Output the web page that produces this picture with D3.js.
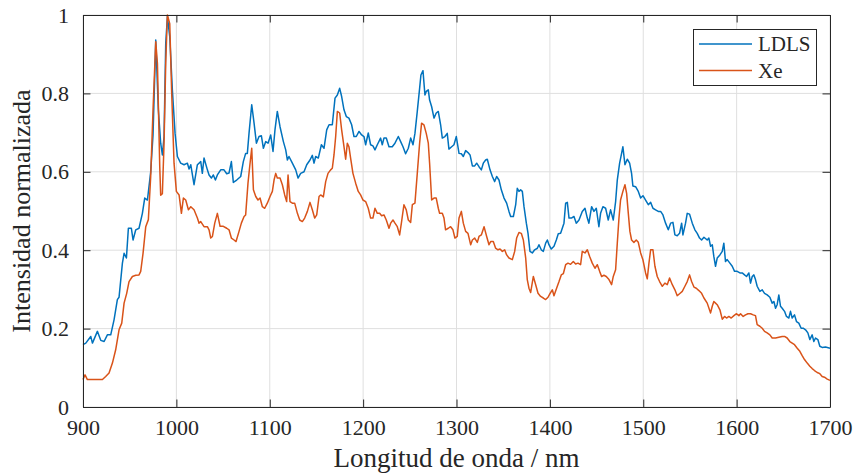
<!DOCTYPE html>
<html><head><meta charset="utf-8">
<script src="https://cdn.jsdelivr.net/npm/d3@7"></script>
<style>
body{margin:0;background:#fff;font-family:'Liberation Serif'}
svg{display:block}
svg text{font-family:'Liberation Serif'}
</style>
</head><body>
<svg id="chart" width="855" height="475" font-family="Liberation Serif"></svg>
<script>
const seriesNames = ["LDLS", "Xe"];
const ldlsNm = [900,903,908.3,910.1,915.4,919,922.6,926.1,929.7,933.3,936.8,938.6,942.2,944,946.5,948.6,951.8,953.6,956.5,960,963.6,966.1,969,972.5,975,977.9,980.7,983.2,985,986.8,988.6,990.4,992.9,995.7,998.6,1001.1,1004.6,1008.2,1011.8,1013.6,1015.4,1018.9,1022.5,1026.1,1027.8,1029.6,1033.2,1035,1037.5,1039.6,1041.8,1043.9,1047.5,1051,1053.9,1056.4,1058.9,1061,1064.6,1068.9,1071.7,1074.2,1076,1077.8,1080.7,1083.2,1085.7,1088.5,1091,1093.2,1095.7,1098.2,1101,1103.5,1105.6,1108.1,1111,1114.6,1117.1,1118.9,1120.6,1124.2,1127.8,1130.3,1133.1,1136.7,1139.6,1143.1,1145.6,1147.4,1149.2,1152,1155.3,1158.1,1161,1163.5,1167,1169.9,1172.4,1174.9,1177,1179.5,1182,1184.8,1187.7,1190.2,1192.7,1195.6,1198.4,1200.9,1202.7,1205.5,1208,1210.5,1212.7,1215.2,1218.7,1220.5,1222.3,1224.8,1227.7,1231.2,1234.1,1237.7,1240.2,1242.7,1245.5,1248.4,1250.9,1253.4,1255.5,1258,1260.5,1261.9,1264.1,1266.2,1267.6,1269.8,1271.2,1273.4,1275.9,1278.3,1280.5,1283,1284.8,1287.6,1290.1,1291.9,1294.8,1297.3,1299.8,1302.7,1305.2,1307.3,1309.8,1312.3,1314.5,1317,1319.5,1321.6,1324.1,1326.6,1328.7,1331.2,1333,1335.9,1338.4,1340.9,1343,1345.5,1348,1350.9,1353.7,1356.2,1358,1360.9,1363.4,1365.1,1366.9,1368.7,1370.5,1372.3,1374.8,1376.6,1378.7,1381.2,1383.7,1386.6,1388.3,1390.8,1393,1395.5,1397.3,1399,1401.5,1404.4,1406.9,1409,1411.5,1413.3,1415.1,1416.9,1418.7,1420.5,1423,1425.8,1428.3,1431.2,1434.7,1437.6,1440.1,1441.8,1444.7,1447.2,1449.7,1452.5,1454.3,1456.8,1459.7,1462.5,1465,1467.9,1470.4,1472.2,1474.7,1476.8,1478.2,1480.4,1482.9,1485.4,1487.5,1488.9,1491.8,1494.7,1497.2,1499.7,1502.5,1505.4,1507.9,1510.4,1513.2,1516.1,1518.6,1521.1,1523.9,1526.8,1529.3,1531.8,1533.9,1536.4,1538.9,1541.1,1542.5,1545.3,1547.1,1549.6,1552.5,1555.3,1557.8,1560.3,1562.5,1565,1568.5,1570.3,1572.1,1573.9,1575.6,1577.4,1579.2,1582.1,1584.6,1586.3,1588.1,1589.9,1592.8,1595.3,1597.8,1600.6,1603.5,1606,1608.5,1610.6,1613.1,1614.9,1616.7,1618.5,1620.2,1622,1624.9,1627.4,1629.9,1632.7,1635.6,1638.1,1639.9,1641.7,1643.4,1645.2,1647,1648.8,1651.3,1653.4,1655.9,1657.7,1659.5,1662,1664.1,1666.6,1669.1,1671.3,1673.8,1676.3,1678.4,1680.9,1682.7,1684.5,1687,1689.1,1691.6,1695.2,1700];
const ldlsVal = [0.159,0.163,0.18,0.163,0.193,0.17,0.167,0.184,0.184,0.223,0.274,0.28,0.367,0.392,0.38,0.456,0.456,0.426,0.452,0.456,0.494,0.533,0.528,0.6,0.694,0.936,0.758,0.673,0.643,0.69,0.928,0.996,0.945,0.809,0.698,0.639,0.622,0.618,0.622,0.607,0.618,0.567,0.618,0.626,0.596,0.635,0.605,0.592,0.584,0.592,0.579,0.592,0.605,0.605,0.595,0.597,0.626,0.573,0.579,0.588,0.626,0.647,0.647,0.698,0.771,0.724,0.673,0.69,0.692,0.66,0.677,0.673,0.694,0.652,0.707,0.754,0.715,0.677,0.656,0.63,0.639,0.622,0.605,0.584,0.596,0.6,0.618,0.63,0.642,0.622,0.639,0.635,0.669,0.66,0.707,0.72,0.72,0.788,0.796,0.813,0.792,0.758,0.741,0.737,0.72,0.69,0.69,0.703,0.694,0.69,0.669,0.699,0.669,0.666,0.656,0.669,0.686,0.669,0.686,0.686,0.664,0.664,0.673,0.69,0.677,0.664,0.646,0.66,0.686,0.669,0.698,0.754,0.813,0.847,0.858,0.796,0.805,0.809,0.783,0.766,0.737,0.75,0.754,0.72,0.686,0.69,0.698,0.658,0.664,0.669,0.69,0.647,0.646,0.639,0.654,0.649,0.643,0.615,0.615,0.622,0.613,0.605,0.622,0.63,0.632,0.605,0.588,0.575,0.588,0.579,0.554,0.533,0.52,0.499,0.486,0.486,0.516,0.558,0.55,0.554,0.55,0.511,0.469,0.443,0.397,0.393,0.401,0.405,0.414,0.401,0.397,0.418,0.426,0.414,0.403,0.41,0.426,0.442,0.443,0.456,0.469,0.52,0.522,0.482,0.482,0.486,0.469,0.477,0.499,0.507,0.482,0.469,0.511,0.499,0.507,0.46,0.494,0.511,0.507,0.477,0.503,0.477,0.524,0.579,0.622,0.647,0.664,0.618,0.632,0.622,0.596,0.564,0.562,0.55,0.533,0.539,0.528,0.516,0.522,0.507,0.503,0.499,0.499,0.49,0.469,0.452,0.469,0.471,0.439,0.437,0.443,0.469,0.439,0.469,0.494,0.492,0.469,0.452,0.443,0.431,0.426,0.433,0.426,0.431,0.41,0.414,0.384,0.359,0.38,0.388,0.397,0.418,0.371,0.376,0.367,0.359,0.346,0.346,0.342,0.342,0.337,0.333,0.342,0.316,0.333,0.337,0.325,0.308,0.295,0.299,0.29,0.286,0.28,0.265,0.269,0.252,0.261,0.286,0.257,0.252,0.244,0.231,0.227,0.244,0.227,0.235,0.218,0.214,0.201,0.201,0.197,0.189,0.172,0.184,0.167,0.176,0.172,0.155,0.152,0.153,0.15];
const xeNm = [900,902.2,904.7,913.6,920.8,924.3,927.9,931.5,935,938.6,941.5,944,946.8,949.3,952.9,956.5,960,961.8,964.3,967.2,970,972.5,975,977.9,979.7,982.2,983.2,985,986.8,988.6,990.4,992.9,995,997.5,1000,1002.9,1005.4,1007.5,1010,1012.9,1015.4,1018.9,1022.5,1024.3,1026.1,1029.6,1033.2,1035,1036.8,1038.6,1041.1,1043.9,1046.8,1050.3,1053.9,1056.4,1058.9,1061.8,1063.9,1067.1,1069.6,1072.5,1074.2,1076.7,1078.5,1080.7,1082.5,1085,1087.4,1089.6,1092.1,1094.6,1097.4,1100.3,1102.8,1104.6,1106.4,1108.1,1111,1113.5,1116,1118.1,1119.6,1121.7,1124.2,1126.7,1129.6,1132.1,1134.9,1137.4,1140.3,1143.1,1145.6,1148.1,1150.3,1152.8,1154.5,1157.4,1159.9,1162.4,1165.2,1167,1168.8,1170.6,1172.4,1174.9,1177,1179.5,1181.3,1183.1,1184.8,1186.6,1189.1,1192,1194.8,1197.3,1199.8,1202.7,1205.5,1208,1210.5,1212.7,1215.2,1217.7,1219.8,1222.3,1224.8,1227.7,1229.5,1232,1234.1,1236.6,1239.1,1241.2,1243.7,1246.2,1248.4,1250.9,1252.7,1255.5,1258,1260.5,1262.6,1265.1,1267.6,1269.8,1271.2,1273.4,1275.9,1278.3,1280.5,1281.9,1284.8,1286.6,1288.3,1291.2,1293.7,1296.2,1298.3,1300.8,1302.7,1305.2,1307.3,1309.8,1312.3,1315.2,1317,1319.5,1322.3,1324.1,1326.6,1329.5,1332.3,1334.8,1336.6,1339.4,1341.9,1344.4,1346.6,1349.1,1351.6,1353.7,1356.2,1359.8,1362.3,1364.4,1366.9,1369.4,1371.6,1374.1,1375.8,1377.6,1379.4,1382.3,1384.8,1387.3,1390.1,1393,1395.5,1398,1400.1,1402.6,1404.4,1407.2,1409.8,1412.2,1414.4,1416.9,1419.4,1422.2,1425.1,1427.6,1430.1,1432.9,1434.7,1437.6,1440.1,1442.6,1445.4,1448.3,1450.8,1453.3,1455.4,1457.9,1460.4,1463.3,1466.1,1467.9,1470.4,1472.2,1474,1475.7,1478.2,1480.4,1482.2,1484,1485.7,1487.5,1490,1492.5,1494.7,1497.2,1499.7,1502.5,1504.3,1506.1,1507.9,1510.4,1512.5,1515,1517.5,1520.4,1523.2,1525.7,1528.2,1531.1,1533.9,1536.4,1538.9,1541.8,1544.6,1547.1,1549.6,1551.8,1554.3,1556.8,1559.6,1562.5,1565,1568.5,1572.1,1573.9,1575.6,1577.4,1579.2,1582.1,1584.6,1587.1,1589.2,1591.7,1594.2,1597.1,1599.9,1602.4,1604.2,1607,1609.5,1612.1,1614.9,1617.8,1620.2,1622,1624.9,1627.4,1629.9,1632.7,1635.6,1638.1,1641.7,1645.2,1648.8,1651.3,1654.1,1657,1659.5,1662,1664.9,1667.7,1670.2,1672.7,1675.6,1678.4,1680.9,1683.4,1686.3,1689.1,1691.6,1694.1,1697,1700];
const xeVal = [0.07,0.082,0.07,0.07,0.07,0.078,0.087,0.112,0.146,0.197,0.214,0.265,0.29,0.32,0.333,0.336,0.337,0.346,0.392,0.46,0.478,0.588,0.758,0.932,0.877,0.613,0.54,0.544,0.673,0.877,1.0,0.978,0.8,0.622,0.55,0.541,0.494,0.533,0.528,0.503,0.511,0.503,0.482,0.469,0.473,0.46,0.46,0.452,0.431,0.435,0.469,0.494,0.461,0.461,0.456,0.452,0.431,0.426,0.422,0.448,0.469,0.486,0.49,0.571,0.613,0.66,0.554,0.537,0.528,0.533,0.511,0.507,0.52,0.537,0.55,0.579,0.596,0.584,0.584,0.567,0.541,0.524,0.592,0.524,0.52,0.52,0.494,0.477,0.473,0.482,0.499,0.522,0.503,0.482,0.49,0.537,0.541,0.536,0.575,0.596,0.605,0.609,0.643,0.69,0.754,0.75,0.707,0.664,0.632,0.673,0.664,0.635,0.596,0.571,0.55,0.541,0.528,0.524,0.507,0.482,0.482,0.507,0.494,0.494,0.488,0.49,0.477,0.456,0.469,0.477,0.469,0.46,0.439,0.473,0.516,0.503,0.477,0.471,0.516,0.52,0.596,0.673,0.724,0.72,0.698,0.673,0.622,0.528,0.533,0.533,0.507,0.494,0.494,0.482,0.452,0.456,0.46,0.452,0.431,0.435,0.482,0.499,0.469,0.448,0.443,0.414,0.426,0.431,0.42,0.435,0.439,0.46,0.435,0.414,0.422,0.422,0.405,0.401,0.403,0.397,0.401,0.388,0.38,0.376,0.397,0.431,0.445,0.443,0.426,0.38,0.325,0.303,0.292,0.333,0.312,0.29,0.282,0.278,0.274,0.28,0.289,0.299,0.284,0.303,0.32,0.337,0.34,0.363,0.367,0.364,0.371,0.365,0.367,0.363,0.397,0.393,0.401,0.384,0.367,0.354,0.363,0.346,0.333,0.336,0.333,0.325,0.312,0.333,0.35,0.418,0.482,0.528,0.55,0.567,0.545,0.494,0.448,0.426,0.42,0.426,0.42,0.393,0.375,0.342,0.327,0.367,0.401,0.401,0.359,0.333,0.32,0.308,0.316,0.312,0.329,0.312,0.299,0.284,0.289,0.295,0.308,0.32,0.337,0.32,0.306,0.303,0.297,0.29,0.278,0.265,0.24,0.257,0.269,0.265,0.261,0.248,0.224,0.231,0.227,0.231,0.227,0.233,0.238,0.233,0.238,0.231,0.235,0.238,0.238,0.235,0.233,0.21,0.206,0.201,0.193,0.189,0.184,0.176,0.176,0.178,0.18,0.18,0.176,0.167,0.163,0.159,0.15,0.142,0.131,0.121,0.112,0.104,0.098,0.093,0.088,0.085,0.078,0.076,0.071,0.068];
const xTickValues = [900,1000,1100,1200,1300,1400,1500,1600,1700];
const yTickValues = [0,0.2,0.4,0.6,0.8,1];
const yTickLabels = ["0","0.2","0.4","0.6","0.8","1"];
const xLabel = "Longitud de onda / nm";
const yLabel = "Intensidad normalizada";

const FONT = "Liberation Serif";
const colors = ["#0072BD", "#D95319"];
const axisColor = "#262626";
const gridColor = "#dfdfdf";
const L = 83, R = 830, T = 15, B = 407;
const svg = d3.select("#chart");
const x = d3.scaleLinear().domain([900, 1700]).range([L, R]);
const y = d3.scaleLinear().domain([0, 1]).range([B, T]);

// grid
const grid = svg.append("g");
grid.selectAll("line.gx").data(xTickValues).join("line")
  .attr("x1", d => x(d)).attr("x2", d => x(d)).attr("y1", T).attr("y2", B)
  .attr("stroke", gridColor).attr("stroke-width", 1);
grid.selectAll("line.gy").data(yTickValues).join("line")
  .attr("x1", L).attr("x2", R).attr("y1", d => y(d)).attr("y2", d => y(d))
  .attr("stroke", gridColor).attr("stroke-width", 1);

// series
const series = [d3.zip(ldlsNm, ldlsVal), d3.zip(xeNm, xeVal)];
const line = d3.line().x(d => x(d[0])).y(d => y(d[1]));
series.forEach((s, i) => {
  svg.append("path").datum(s).attr("d", line)
    .attr("fill", "none").attr("stroke", colors[i]).attr("stroke-width", 1.5)
    .attr("stroke-linejoin", "round");
});

// axes (ticks inward)
const tk = 7.5;
const fmtY = d => yTickLabels[yTickValues.indexOf(d)];
function styleAxis(g) {
  g.attr("font-family", FONT).attr("font-size", 22);
  g.selectAll("path.domain").attr("stroke", axisColor).attr("stroke-width", 1);
  g.selectAll(".tick line").attr("stroke", axisColor).attr("stroke-width", 1);
  g.selectAll("text").attr("fill", "#262626").attr("font-family", FONT).attr("font-size", 22);
}
svg.append("g").attr("transform", `translate(0,${B})`)
  .call(d3.axisBottom(x).tickValues(xTickValues).tickFormat(d3.format("d")).tickSizeInner(-tk).tickSizeOuter(0).tickPadding(12))
  .call(styleAxis);
svg.append("g").attr("transform", `translate(0,${T})`)
  .call(d3.axisTop(x).tickValues(xTickValues).tickFormat("").tickSizeInner(-tk).tickSizeOuter(0))
  .call(styleAxis);
svg.append("g").attr("transform", `translate(${L},0)`)
  .call(d3.axisLeft(y).tickValues(yTickValues).tickFormat(fmtY).tickSizeInner(-tk).tickSizeOuter(0).tickPadding(14))
  .call(styleAxis);
svg.append("g").attr("transform", `translate(${R},0)`)
  .call(d3.axisRight(y).tickValues(yTickValues).tickFormat("").tickSizeInner(-tk).tickSizeOuter(0))
  .call(styleAxis);

// axis titles
svg.append("text").attr("x", (L + R) / 2).attr("y", 467).attr("text-anchor", "middle")
  .attr("font-family", FONT).attr("font-size", 27).attr("fill", "#262626").text(xLabel);
svg.append("text").attr("transform", `translate(30,${(T + B) / 2}) rotate(-90)`)
  .attr("text-anchor", "middle").attr("font-family", FONT).attr("font-size", 26).attr("fill", "#262626").text(yLabel);

// legend
const lg = svg.append("g");
lg.append("rect").attr("x", 693.5).attr("y", 29.5).attr("width", 123).attr("height", 56)
  .attr("fill", "#fff").attr("stroke", axisColor).attr("stroke-width", 1);
seriesNames.forEach((n, i) => {
  const yy = 44 + i * 26.5;
  lg.append("line").attr("x1", 699).attr("x2", 752).attr("y1", yy).attr("y2", yy)
    .attr("stroke", colors[i]).attr("stroke-width", 1.5);
  lg.append("text").attr("x", 758).attr("y", yy + 7).attr("font-family", FONT).attr("font-size", 21)
    .attr("fill", "#262626").text(n);
});
</script>
</body></html>
